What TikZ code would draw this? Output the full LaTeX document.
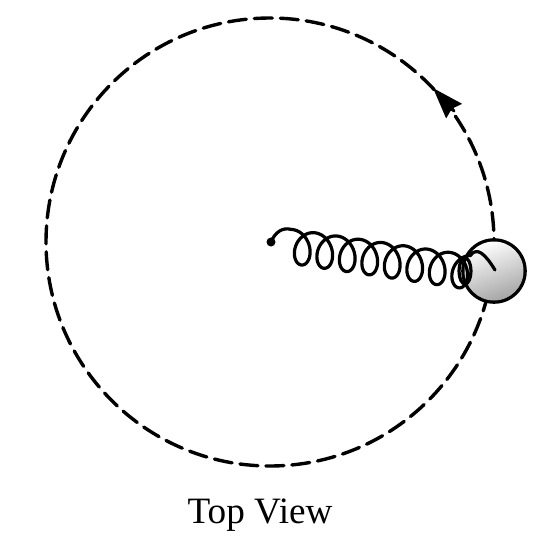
\documentclass[tikz,border=0pt]{standalone}
\usepackage{fontspec}
\setmainfont{Liberation Serif}
\usetikzlibrary{arrows.meta}
\tikzset{
	orbitline/.style={line width=1.7pt, dash pattern=on 9pt off 4pt},
	springline/.style={line width=1.6pt, smooth},
	ballshade/.style={left color=white, right color=gray!70, shading angle=20},
}
\begin{document}
\begin{tikzpicture}[x=0.5pt,y=-0.5pt,>={Stealth[length=15.5pt,width=10.5pt,inset=1.5pt]}, line join = round, line cap = round]
	\useasboundingbox (0,0) rectangle (550,552);
	\draw[orbitline] (270,242) circle (224);
	\draw[->, line width=1.5pt] (454,111)--(433,88);
	\draw[line width=1.8pt, fill=white] (494,271) circle (31);
	\fill[ballshade] (494,271) circle (29.5);
	\fill (271,242) circle (4.5);
	\draw[springline] (271,242) .. controls (275,232) and (283,227) .. (291,229.4);
	\draw[springline, samples=400] plot [domain=0:50.27] ({\x*3.58+291+13*sin(\x r)}, {\x*0.52+246.4-17*cos(\x r)});
	\draw[springline] (465,271) ellipse (6 and 13);
	\draw[springline] (471,254.5) .. controls (477,248) and (484,252) .. (495,270);
	\node (toplabel) at (260,515) {\fontsize{18.6}{20}\selectfont Top View};
\end{tikzpicture}
\end{document}
